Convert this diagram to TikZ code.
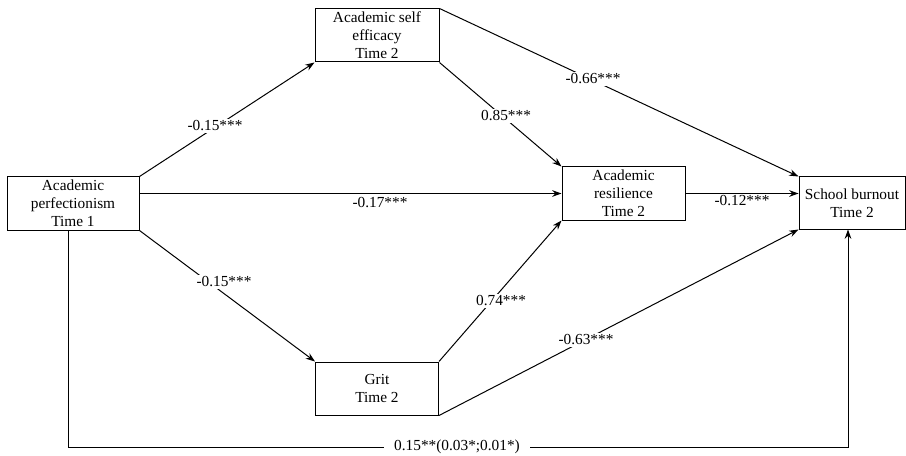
\documentclass[tikz,border=0pt]{standalone}
\usepackage{fontspec}
\setmainfont{Liberation Serif}
\usetikzlibrary{arrows.meta}

\tikzset{
  var/.style={draw, line width=0.75pt, align=center, inner sep=0pt, font=\fontsize{11.5}{13.5}\selectfont},
  coef/.style={fill=white, font=\fontsize{11.5}{13.5}\selectfont, inner sep=1pt},
  path/.style={line width=0.75pt, -{Stealth[length=7pt,width=5pt]}}
}

\begin{document}
\begin{tikzpicture}[x=0.75pt,y=-0.75pt]
\useasboundingbox (0,0) rectangle (906,456);

\node[var, minimum width=99pt, minimum height=39.75pt] (ap) at (73,203.5) {Academic\\perfectionism\\Time 1};
\node[var, minimum width=93pt, minimum height=39.75pt] (ase) at (377,35.5) {Academic self\\efficacy\\Time 2};
\node[var, minimum width=92.25pt, minimum height=39.75pt] (ar) at (623.5,193.5) {Academic\\resilience\\Time 2};
\node[var, minimum width=92.25pt, minimum height=39.75pt] (grit) at (377,388.5) {Grit\\Time 2};
\node[var, minimum width=79.5pt, minimum height=39pt] (sb) at (852,203) {School burnout\\Time 2};

% paths from perfectionism
\draw [path] (ap.north east) -- (ase.south west);
\draw [path] (ap.south east) -- (grit.north west);
\draw [path] (ap.east |- ar.west) -- (ar.west);

% paths into resilience
\draw [path] (ase.south east) -- (ar.north west);
\draw [path] (grit.north east) -- (ar.south west);
\draw [path] (ar.east) -- (ar.east -| sb.west);

% paths into burnout
\draw [path] (ase.north east) -- (sb.north west);
\draw [path] (grit.south east) -- (sb.south west);

\coordinate (c1) at (68,447);
\coordinate (c2) at (848,447);
\draw [path] (ap.south -| c1) -- (c1) -- (c2) -- (sb.south -| c2);

\node[coef] (l1) at (215,126) {-0.15***};
\node[coef] (l2) at (224,282) {-0.15***};
\node[coef] (l3) at (380,203) {-0.17***};
\node[coef] (l4) at (506,116) {0.85***};
\node[coef] (l5) at (501,301) {0.74***};
\node[coef] (l6) at (742,201) {-0.12***};
\node[coef] (l7) at (593,79) {-0.66***};
\node[coef] (l8) at (586,340) {-0.63***};
\node[coef, inner xsep=8pt] (l9) at (457,447) {0.15**(0.03*;0.01*)};
\end{tikzpicture}
\end{document}
